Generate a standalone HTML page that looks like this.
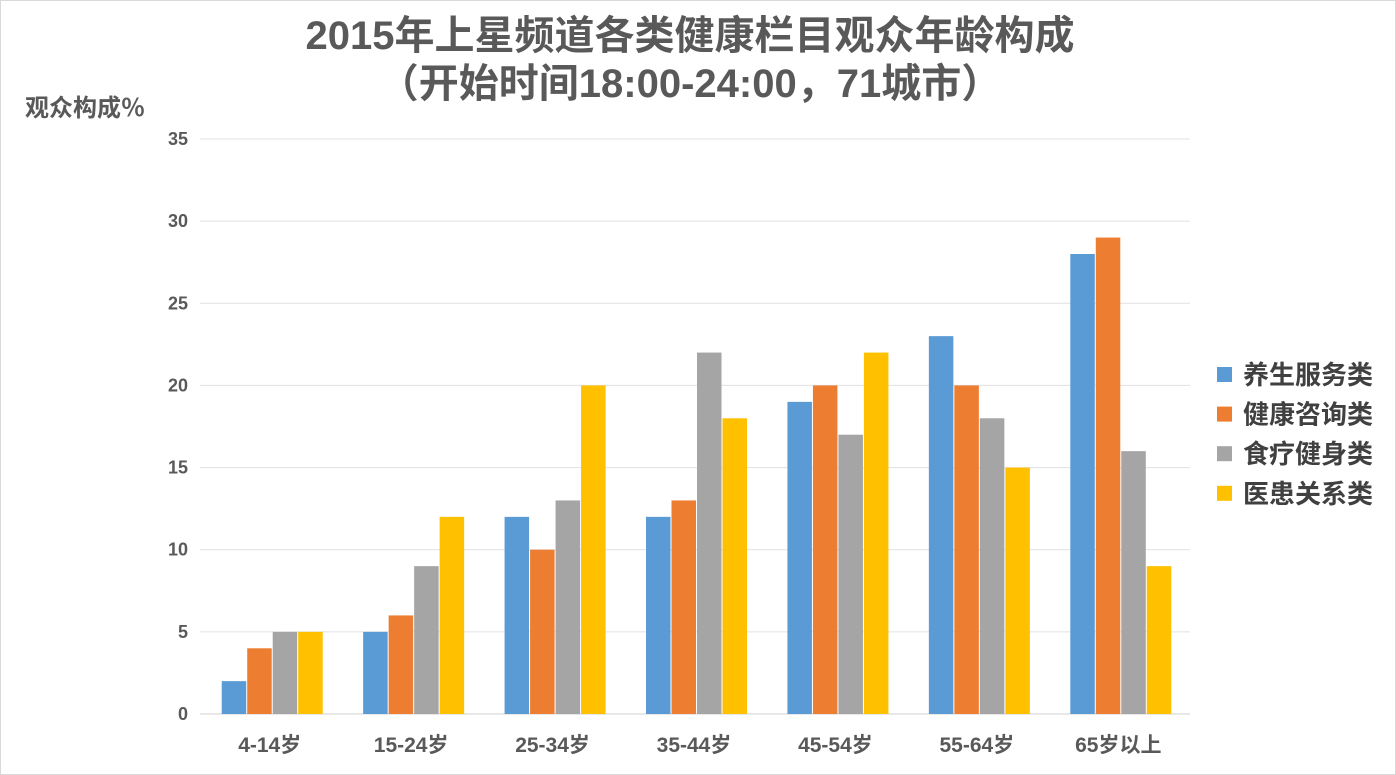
<!DOCTYPE html>
<html><head><meta charset="utf-8"><style>
body{margin:0;background:#fff;}
svg{display:block;font-family:"Liberation Sans","Noto Sans CJK SC",sans-serif;}
</style></head><body>
<svg id="c" width="1396" height="775">
<rect x="0.5" y="0.5" width="1395" height="774" fill="#fff" stroke="#d9d9d9"/>
<text x="690" y="49" text-anchor="middle" font-size="40" font-weight="bold" fill="#595959">2015年上星频道各类健康栏目观众年龄构成</text>
<text x="690" y="97" text-anchor="middle" font-size="40" font-weight="bold" fill="#595959">（开始时间18:00-24:00，71城市）</text>
<text x="25" y="116" font-size="24" font-weight="bold" fill="#595959">观众构成％</text>
<g id="grid"></g><g id="bars"></g><g id="legend"></g>
</svg>
<script>
const categories=["4-14岁","15-24岁","25-34岁","35-44岁","45-54岁","55-64岁","65岁以上"];
const seriesNames=["养生服务类","健康咨询类","食疗健身类","医患关系类"];
const s1=[2,5,12,12,19,23,28];
const s2=[4,6,10,13,20,20,29];
const s3=[5,9,13,22,17,18,16];
const s4=[5,12,20,18,22,15,9];
const yTicks=[0,5,10,15,20,25,30,35];
const colors=["#5b9bd5","#ed7d31","#a5a5a5","#ffc000"];
const NS="http://www.w3.org/2000/svg";
const x0=200,x1=1190,y0=714,yTop=139,yMax=35;
const y=v=>y0-(v/yMax)*(y0-yTop);
const gw=(x1-x0)/categories.length,bw=25.5;
function mk(t,a,p){const e=document.createElementNS(NS,t);for(const k in a)e.setAttribute(k,a[k]);p.appendChild(e);return e;}
const grid=document.getElementById('grid');
yTicks.forEach(t=>{
 const l=mk('line',{x1:x0,x2:x1,y1:y(t),y2:y(t),stroke:t===0?'#d0d0d0':'#e0e0e0','stroke-width':1},grid);
 
 
 const tx=mk('text',{x:188,y:y(t)+6,'text-anchor':'end','font-size':18,'font-weight':'bold',fill:'#595959'},grid);
 tx.textContent=t;
 
 
});
const bars=document.getElementById('bars');
const series=[s1,s2,s3,s4];
categories.forEach((c,i)=>{
 const cx=x0+gw*i+gw/2+2;
 series.forEach((s,j)=>{
  const bx=cx-2*bw+j*bw;
  const r=mk('rect',{x:bx,y:y(s[i]),width:bw-1,height:y0-y(s[i]),fill:colors[j]},bars);
  
  
 });
 const t=mk('text',{x:cx-3,y:752,'text-anchor':'middle','font-size':21,'font-weight':'bold',fill:'#595959'},bars);
 t.textContent=c;
 
 
});
const lg=document.getElementById('legend');
seriesNames.forEach((n,j)=>{
 const yy=375+j*39.6;
 const r=mk('rect',{x:1217,y:yy-8,width:15,height:15,fill:colors[j]},lg);
 
 
 const t=mk('text',{x:1243,y:yy+9,'font-size':26,'font-weight':'bold',fill:'#404040'},lg);
 t.textContent=n;
 
 
});
</script>
</body></html>
